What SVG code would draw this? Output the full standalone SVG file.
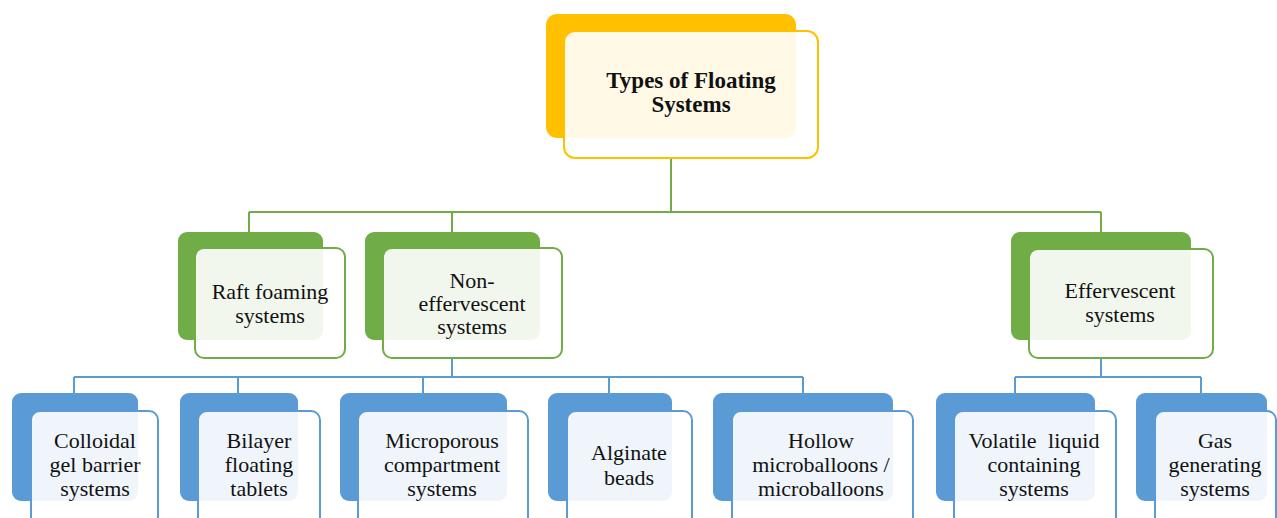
<svg xmlns="http://www.w3.org/2000/svg" width="1277" height="518" viewBox="0 0 1277 518">
<style>
.bg{fill:#fff}
.yb{fill:#FFC000}
.yf{fill:#fff;fill-opacity:0.9;stroke:#FFC000;stroke-width:2}
.gb{fill:#70AD47}
.gf{fill:#fff;fill-opacity:0.9;stroke:#70AD47;stroke-width:2}
.bb{fill:#5B9BD5}
.bf{fill:#fff;fill-opacity:0.9;stroke:#5B9BD5;stroke-width:2}
.gl{stroke:#70AD47;stroke-width:2;fill:none}
.bl{stroke:#5B9BD5;stroke-width:2;fill:none}
text{font-family:"Liberation Serif","Times New Roman",serif;font-size:22px;fill:#111;text-anchor:middle}
.title{font-weight:bold;font-size:23px}
</style>
<rect class="bg" x="0" y="0" width="1277" height="518"/>
<g id="connectors">
<path class="gl" d="M671 158V212M249 212H1101M249 212V232M452 212V232M1101 212V232"/>
<path class="bl" d="M452 358V377M74 377H803M74 377V393M238 377V393M423 377V393M609 377V393M803 377V393"/>
<path class="bl" d="M1101 358V377M1015 377H1201M1015 377V393M1201 377V393"/>
</g>
<g id="n-root">
<rect class="yb" x="546" y="14" width="250" height="124" rx="11"/>
<rect class="yf" x="564" y="31" width="254" height="127" rx="11"/>
<text class="title" x="691" y="88">Types of Floating</text>
<text class="title" x="691" y="112">Systems</text>
</g>
<g id="n-raft">
<rect class="gb" x="178" y="232" width="145" height="108" rx="9"/>
<rect class="gf" x="195" y="248" width="150" height="110" rx="9"/>
<text x="270" y="299">Raft foaming</text>
<text x="270" y="323">systems</text>
</g>
<g id="n-noneff">
<rect class="gb" x="365" y="232" width="175" height="108" rx="9"/>
<rect class="gf" x="383" y="248" width="179" height="110" rx="9"/>
<text x="472" y="288">Non-</text>
<text x="472" y="311">effervescent</text>
<text x="472" y="334">systems</text>
</g>
<g id="n-eff">
<rect class="gb" x="1011" y="232" width="180" height="108" rx="9"/>
<rect class="gf" x="1029" y="249" width="184" height="109" rx="9"/>
<text x="1120" y="298">Effervescent</text>
<text x="1120" y="322">systems</text>
</g>
<g id="n-colloidal">
<rect class="bb" x="12" y="393" width="126" height="108" rx="9"/>
<rect class="bf" x="31" y="411" width="127" height="130" rx="9"/>
<text x="95" y="448">Colloidal</text>
<text x="95" y="472">gel barrier</text>
<text x="95" y="496">systems</text>
</g>
<g id="n-bilayer">
<rect class="bb" x="180" y="393" width="118" height="108" rx="9"/>
<rect class="bf" x="198" y="411" width="122" height="130" rx="9"/>
<text x="259" y="448">Bilayer</text>
<text x="259" y="472">floating</text>
<text x="259" y="496">tablets</text>
</g>
<g id="n-micro">
<rect class="bb" x="340" y="393" width="167" height="108" rx="9"/>
<rect class="bf" x="358" y="411" width="170" height="130" rx="9"/>
<text x="442" y="448">Microporous</text>
<text x="442" y="472">compartment</text>
<text x="442" y="496">systems</text>
</g>
<g id="n-alginate">
<rect class="bb" x="548" y="393" width="124" height="108" rx="9"/>
<rect class="bf" x="567" y="411" width="125" height="130" rx="9"/>
<text x="629" y="460">Alginate</text>
<text x="629" y="485">beads</text>
</g>
<g id="n-hollow">
<rect class="bb" x="713" y="393" width="180" height="108" rx="9"/>
<rect class="bf" x="732" y="411" width="181" height="130" rx="9"/>
<text x="821" y="448">Hollow</text>
<text x="821" y="472">microballoons /</text>
<text x="821" y="496">microballoons</text>
</g>
<g id="n-volatile">
<rect class="bb" x="936" y="393" width="159" height="108" rx="9"/>
<rect class="bf" x="954" y="411" width="162" height="130" rx="9"/>
<text x="1034" y="448" word-spacing="6">Volatile liquid</text>
<text x="1034" y="472">containing</text>
<text x="1034" y="496">systems</text>
</g>
<g id="n-gas">
<rect class="bb" x="1136" y="393" width="131" height="108" rx="9"/>
<rect class="bf" x="1155" y="411" width="121" height="130" rx="9"/>
<text x="1215" y="448">Gas</text>
<text x="1215" y="472">generating</text>
<text x="1215" y="496">systems</text>
</g>
</svg>
